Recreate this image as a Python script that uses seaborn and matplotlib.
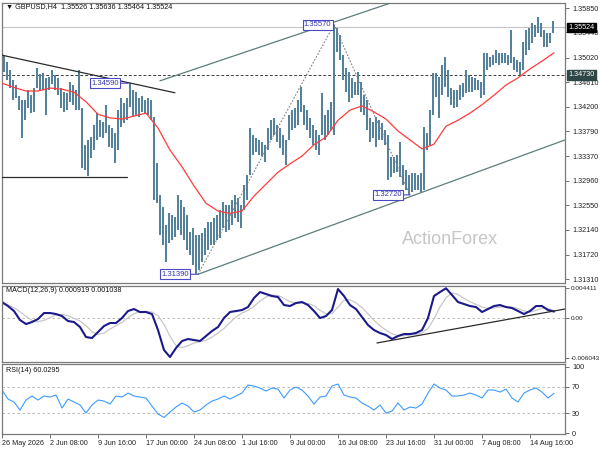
import numpy as np
import pandas as pd
import matplotlib
matplotlib.use("Agg")
import matplotlib.pyplot as plt
import matplotlib.transforms as mtransforms
import seaborn as sns

# ------------------------------------------------------------------ data
# GBPUSD H4; one drawn bar = 2 H4 bars (x measured in H4 bars from 26 May 00:00)
bar_high = [
    1.3506, 1.3495, 1.3481, 1.3464, 1.3456, 1.3438, 1.3431, 1.3431, 1.3448, 1.3439,
    1.3451, 1.3485, 1.3475, 1.3476, 1.3468, 1.3469, 1.3481, 1.3473, 1.3468, 1.3451,
    1.3444, 1.3443, 1.3461, 1.3456, 1.3448, 1.3481, 1.3417, 1.3356, 1.3364, 1.3369,
    1.3389, 1.3409, 1.3397, 1.3394, 1.3423, 1.3389, 1.3384, 1.3376, 1.3414, 1.3434,
    1.3426, 1.3434, 1.3459, 1.3448, 1.3444, 1.3434, 1.3438, 1.3431, 1.3434, 1.3431,
    1.3402, 1.3325, 1.3272, 1.3252, 1.3222, 1.3242, 1.3238, 1.3235, 1.3272, 1.3263,
    1.3252, 1.3238, 1.3210, 1.3217, 1.3205, 1.3205, 1.3208, 1.3217, 1.3227, 1.3227,
    1.3233, 1.3238, 1.3247, 1.3260, 1.3255, 1.3255, 1.3263, 1.3272, 1.3267, 1.3255,
    1.3289, 1.3305, 1.3384, 1.3372, 1.3367, 1.3364, 1.3361, 1.3356, 1.3384, 1.3397,
    1.3401, 1.3389, 1.3384, 1.3372, 1.3364, 1.3406, 1.3414, 1.3417, 1.3431, 1.3452,
    1.3423, 1.3414, 1.3401, 1.3389, 1.3381, 1.3372, 1.3443, 1.3406, 1.3414, 1.3428,
    1.3557, 1.3551, 1.3540, 1.3506, 1.3485, 1.3478, 1.3468, 1.3461, 1.3478, 1.3461,
    1.3439, 1.3431, 1.3401, 1.3394, 1.3402, 1.3397, 1.3392, 1.3381, 1.3372, 1.3335,
    1.3335, 1.3339, 1.3361, 1.3322, 1.3314, 1.3305, 1.3309, 1.3309, 1.3305, 1.3309,
    1.3386, 1.3376, 1.3414, 1.3476, 1.3476, 1.3469, 1.3490, 1.3503, 1.3481, 1.3451,
    1.3448, 1.3448, 1.3456, 1.3459, 1.3481, 1.3473, 1.3469, 1.3468, 1.3464, 1.3461,
    1.3510, 1.3510, 1.3503, 1.3506, 1.3515, 1.3510, 1.3510, 1.3510, 1.3506, 1.3548,
    1.3503, 1.3498, 1.3495, 1.3528, 1.3548, 1.3551, 1.3560, 1.3557, 1.3570, 1.3560,
    1.3548, 1.3543, 1.3543, 1.3564,
]
bar_low = [
    1.3478, 1.3464, 1.3451, 1.3431, 1.3434, 1.3414, 1.3367, 1.3397, 1.3417, 1.3409,
    1.3411, 1.3451, 1.3448, 1.3448, 1.3406, 1.3448, 1.3458, 1.3448, 1.3439, 1.3417,
    1.3411, 1.3414, 1.3428, 1.3423, 1.3414, 1.3414, 1.3317, 1.3314, 1.3304, 1.3334,
    1.3347, 1.3364, 1.3369, 1.3367, 1.3376, 1.3352, 1.3351, 1.3325, 1.3347, 1.3386,
    1.3392, 1.3397, 1.3419, 1.3402, 1.3406, 1.3402, 1.3411, 1.3409, 1.3406, 1.3397,
    1.3263, 1.3258, 1.3205, 1.3188, 1.3160, 1.3191, 1.3196, 1.3201, 1.3213, 1.3205,
    1.3196, 1.3180, 1.3171, 1.3155, 1.3139, 1.3146, 1.3160, 1.3171, 1.3180, 1.3188,
    1.3188, 1.3196, 1.3200, 1.3217, 1.3210, 1.3213, 1.3222, 1.3233, 1.3227, 1.3217,
    1.3247, 1.3263, 1.3305, 1.3339, 1.3344, 1.3339, 1.3337, 1.3327, 1.3347, 1.3364,
    1.3372, 1.3361, 1.3351, 1.3339, 1.3322, 1.3364, 1.3381, 1.3384, 1.3389, 1.3411,
    1.3389, 1.3381, 1.3367, 1.3356, 1.3347, 1.3339, 1.3372, 1.3364, 1.3372, 1.3381,
    1.3372, 1.3511, 1.3498, 1.3464, 1.3444, 1.3428, 1.3434, 1.3439, 1.3439, 1.3411,
    1.3406, 1.3381, 1.3361, 1.3367, 1.3352, 1.3364, 1.3364, 1.3356, 1.3297, 1.3302,
    1.3309, 1.3310, 1.3302, 1.3289, 1.3280, 1.3272, 1.3277, 1.3280, 1.3280, 1.3277,
    1.3280, 1.3347, 1.3356, 1.3406, 1.3436, 1.3401, 1.3439, 1.3452, 1.3436, 1.3423,
    1.3417, 1.3419, 1.3431, 1.3436, 1.3443, 1.3444, 1.3444, 1.3448, 1.3448, 1.3434,
    1.3439, 1.3481, 1.3486, 1.3490, 1.3493, 1.3490, 1.3493, 1.3493, 1.3490, 1.3493,
    1.3481, 1.3478, 1.3473, 1.3481, 1.3506, 1.3515, 1.3526, 1.3536, 1.3543, 1.3536,
    1.3520, 1.3520, 1.3526, 1.3543,
]
# red moving average, one value every 8 H4 bars
ma_price = [
    1.3459, 1.3452, 1.3446, 1.3446, 1.3451, 1.3449, 1.3444, 1.3428, 1.3407, 1.3401,
    1.3399, 1.3404, 1.3409, 1.3384, 1.3347, 1.3319, 1.3287, 1.3258, 1.3245, 1.3241,
    1.3245, 1.3270, 1.3290, 1.3310, 1.3324, 1.3337, 1.3356, 1.3369, 1.3397, 1.3414,
    1.3421, 1.3411, 1.3399, 1.3379, 1.3364, 1.3349, 1.3357, 1.3387, 1.3397, 1.3409,
    1.3423, 1.3439, 1.3456, 1.3468, 1.3483, 1.3496, 1.3510,
]
# MACD(12,26,9), one value every 4 H4 bars
macd_main = [
    0.00235, 0.00175, 0.00100, -0.00035, -0.00095, -0.00065, -0.00020, 0.00070, 0.00070, 0.00055,
    0.00025, -0.00050, -0.00065, -0.00140, -0.00290, -0.00305, -0.00215, -0.00125, -0.00080, -0.00080,
    -0.00005, 0.00100, 0.00130, 0.00085, 0.00085, 0.00055, -0.00185, -0.00485, -0.00590, -0.00455,
    -0.00350, -0.00320, -0.00335, -0.00350, -0.00275, -0.00200, -0.00140, -0.00005, 0.00085, 0.00100,
    0.00115, 0.00160, 0.00295, 0.00385, 0.00355, 0.00325, 0.00310, 0.00190, 0.00175, 0.00220,
    0.00235, 0.00190, 0.00100, -0.00005, 0.00025, 0.00115, 0.00430, 0.00325, 0.00190, 0.00130,
    0.00010, -0.00110, -0.00185, -0.00230, -0.00260, -0.00320, -0.00275, -0.00245, -0.00245, -0.00230,
    -0.00185, -0.00005, 0.00325, 0.00385, 0.00441, 0.00340, 0.00235, 0.00205, 0.00175, 0.00160,
    0.00085, 0.00130, 0.00175, 0.00190, 0.00160, 0.00145, 0.00100, 0.00055, 0.00100, 0.00175,
    0.00175, 0.00115, 0.00092,
]
macd_signal = [
    0.00200, 0.00190, 0.00150, 0.00090, 0.00020, -0.00040, -0.00060, -0.00040, 0.00000, 0.00040,
    0.00050, 0.00030, -0.00010, -0.00050, -0.00120, -0.00210, -0.00250, -0.00230, -0.00170, -0.00120,
    -0.00070, 0.00000, 0.00060, 0.00090, 0.00095, 0.00085, 0.00030, -0.00100, -0.00280, -0.00420,
    -0.00450, -0.00420, -0.00380, -0.00360, -0.00340, -0.00290, -0.00230, -0.00160, -0.00070, 0.00010,
    0.00070, 0.00110, 0.00170, 0.00250, 0.00310, 0.00340, 0.00335, 0.00290, 0.00240, 0.00220,
    0.00220, 0.00215, 0.00180, 0.00110, 0.00060, 0.00060, 0.00160, 0.00260, 0.00270, 0.00220,
    0.00150, 0.00060, -0.00040, -0.00120, -0.00190, -0.00240, -0.00270, -0.00270, -0.00260, -0.00250,
    -0.00230, -0.00160, -0.00020, 0.00160, 0.00300, 0.00370, 0.00350, 0.00290, 0.00240, 0.00200,
    0.00160, 0.00140, 0.00145, 0.00160, 0.00165, 0.00160, 0.00135, 0.00100, 0.00085, 0.00110,
    0.00140, 0.00140, 0.00104,
]
# RSI(14), one value every 4 H4 bars
rsi_values = [
    65.0, 51.5, 47.0, 35.0, 50.0, 56.0, 50.0, 56.0, 54.5, 57.5,
    38.0, 51.5, 47.0, 42.5, 30.5, 42.5, 50.0, 48.5, 44.0, 56.0,
    54.5, 60.5, 56.0, 54.5, 53.0, 41.0, 29.0, 24.0, 32.0, 39.5,
    45.5, 41.0, 32.0, 35.0, 42.5, 48.5, 51.5, 56.0, 51.5, 56.0,
    60.5, 72.5, 71.0, 68.0, 63.5, 68.0, 66.5, 53.0, 65.0, 69.5,
    65.0, 56.0, 44.0, 54.5, 56.0, 71.0, 74.0, 57.5, 54.5, 53.0,
    45.5, 41.0, 35.0, 42.5, 30.5, 33.5, 45.5, 35.0, 39.5, 38.0,
    44.0, 60.5, 74.0, 68.0, 65.0, 56.0, 56.0, 57.5, 60.5, 57.5,
    53.0, 65.0, 65.0, 62.0, 66.5, 53.0, 47.0, 60.5, 65.0, 68.0,
    62.0, 53.0, 60.03,
]
date_labels = ["26 May 2026", "2 Jun 08:00", "9 Jun 16:00", "17 Jun 00:00", "24 Jun 08:00",
               "1 Jul 16:00", "9 Jul 00:00", "16 Jul 08:00", "23 Jul 16:00", "31 Jul 00:00",
               "7 Aug 08:00", "14 Aug 16:00"]
price_ticks = [1.35850, 1.35440, 1.35020, 1.34610, 1.34200, 1.33790, 1.33370,
               1.32960, 1.32550, 1.32140, 1.31720, 1.31310]
macd_ticks = [0.004411, 0.0, -0.006043]
macd_tick_labels = ["0.004411", "0.00", "-0.006043"]
rsi_ticks = [100, 70, 30, 0]
header = "\u25BC GBPUSD,H4  1.35526 1.35636 1.35464 1.35524"
bid_price = 1.35524
level_price = 1.34730
# drawn objects: (x in H4 bars, price)
trend_desc_x, trend_desc_p = [0.0, 115.3], [1.3506, 1.3443]
support_x, support_p = [0.0, 83.3], [1.3302, 1.3302]
chan_up_x, chan_up_p = [105.3, 259.8], [1.3463, 1.3594]
chan_low_x, chan_low_p = [130.7, 375.3], [1.3139, 1.3364]
zigzag_x, zigzag_p = [130.7, 221.3, 272.0], [1.3139, 1.3557, 1.3272]
pivot_x = [84.0, 221.3, 130.7, 272.0]
pivot_p = [1.3459, 1.3557, 1.3139, 1.3272]
pivot_text = ["1.34590", "1.35570", "1.31390", "1.32720"]
pivot_gap_px = [8, 1, 8, 7]
macd_trend_x, macd_trend_v = [250.0, 375.3], [-0.00379, 0.00130]

# ------------------------------------------------------------------ style
sns.set_style("white")
plt.rcParams["font.family"] = ["Liberation Sans", "DejaVu Sans"]
FS = 5.2
BAR_COLOR = "#56819b"
SPINE = "#7a7a7a"

W, H = 600, 450
fig = plt.figure(figsize=(6, 4.5), dpi=100)
fig.patch.set_facecolor("white")


def rect(top, bottom):
    return [2 / W, 1 - bottom / H, 563 / W, (bottom - top) / H]


ax = fig.add_axes(rect(3, 283))
axm = fig.add_axes(rect(285.5, 361.5))
axr = fig.add_axes(rect(364, 434))
XMAX = 563 / 1.5

for a in (ax, axm, axr):
    a.set_xlim(0, XMAX)
    for s in a.spines.values():
        s.set_color(SPINE)
        s.set_linewidth(0.9)
    a.yaxis.tick_right()
    a.tick_params(axis="y", which="both", left=False, right=True, labelleft=False,
                  labelright=True, length=3, width=0.6, color="#555555",
                  labelsize=FS, pad=2, labelcolor="#222222")

ax.set_ylim(1.31244, 1.35934)
axm.set_ylim(-0.00657, 0.00483)
axr.set_ylim(-0.95, 104.05)

# ------------------------------------------------------------------ main panel
bar_x = np.arange(len(bar_high)) * 2 + 1.5
ax.vlines(bar_x, bar_low, bar_high, color=BAR_COLOR, lw=1.45, zorder=3)

ma_df = pd.DataFrame({"x": np.arange(len(ma_price)) * 8, "ma": ma_price})
sns.lineplot(data=ma_df, x="x", y="ma", ax=ax, color="#ff3c3c", lw=0.9, zorder=4, legend=False)

ax.axhline(bid_price, color="#c4c4c4", lw=0.8, zorder=1)
ax.axhline(level_price, color="#404040", lw=0.7, ls=(0, (3, 2)), zorder=2)

ax.plot(trend_desc_x, trend_desc_p, color="#2b2b2b", lw=0.9, zorder=5)
ax.plot(support_x, support_p, color="#2b2b2b", lw=0.9, zorder=5)


def extend(xs, ps, xend):
    slope = (ps[1] - ps[0]) / (xs[1] - xs[0])
    return [xs[0], xend], [ps[0], ps[0] + slope * (xend - xs[0])]


ux, up = extend(chan_up_x, chan_up_p, XMAX)
lx, lp = extend(chan_low_x, chan_low_p, XMAX)
ax.plot(ux, up, color="#5d7c7c", lw=0.9, zorder=5)
ax.plot(lx, lp, color="#5d7c7c", lw=0.9, zorder=5)
ax.plot(zigzag_x, zigzag_p, color="#808080", lw=0.8, ls=(0, (1.5, 1.5)), zorder=5)

for px_, pp_, txt, gap in zip(pivot_x, pivot_p, pivot_text, pivot_gap_px):
    ax.annotate(txt, xy=(px_, pp_), xytext=(-(gap + 1.5) * 0.72, 0), textcoords="offset points",
                ha="right", va="center", fontsize=FS + 0.3, color="#3434b0", zorder=8,
                bbox=dict(boxstyle="square,pad=0.18", fc="white", ec="#4a4ac8", lw=0.8),
                arrowprops=dict(arrowstyle="-", color="#4a4ac8", lw=0.8, shrinkA=0, shrinkB=0))

ax.text(0.7957, 0.1536, "ActionForex", transform=ax.transAxes, ha="center", va="center",
        fontsize=13, color="#c6c6c6", zorder=0)
ax.text(4 / 563, 1 - 4 / 280, header, transform=ax.transAxes, ha="left", va="center",
        fontsize=FS, color="#111111", zorder=9)

ax.set_yticks(price_ticks)
ax.set_yticklabels([f"{v:.5f}" for v in price_ticks])
ax.set_xticks([])
ax.set_xlabel("")
ax.set_ylabel("")

btr = mtransforms.blended_transform_factory(ax.transAxes, ax.transData)
ax.text(1.006, bid_price, "1.35524", transform=btr, ha="left", va="center", fontsize=FS,
        color="white", clip_on=False, zorder=10,
        bbox=dict(boxstyle="square,pad=0.2", fc="black", ec="black"))
ax.text(1.006, level_price, "1.34730", transform=btr, ha="left", va="center", fontsize=FS,
        color="white", clip_on=False, zorder=10,
        bbox=dict(boxstyle="square,pad=0.2", fc="#2f4646", ec="#2f4646"))

# ------------------------------------------------------------------ MACD panel
ind_x = np.arange(len(macd_main)) * 4
axm.axhline(0, color="#b0b0b0", lw=0.6, ls=(0, (3, 3)))
sns.lineplot(x=ind_x, y=macd_signal, ax=axm, color="#c8c8c8", lw=0.9, legend=False)
sns.lineplot(x=ind_x, y=macd_main, ax=axm, color="#1a1a8c", lw=1.5, legend=False)
axm.plot(macd_trend_x, macd_trend_v, color="#2b2b2b", lw=0.9)
axm.set_yticks(macd_ticks)
axm.set_yticklabels(macd_tick_labels)
axm.tick_params(axis="y", labelsize=4.6, pad=1.2)
axm.set_xticks([])
axm.set_xlabel("")
axm.set_ylabel("")
axm.text(4 / 563, 1 - 5 / 76, "MACD(12,26,9) 0.000919 0.001038", transform=axm.transAxes,
         ha="left", va="center", fontsize=FS, color="#111111")

# ------------------------------------------------------------------ RSI panel
rsi_x = np.arange(len(rsi_values)) * 4
axr.axhline(70, color="#b0b0b0", lw=0.6, ls=(0, (3, 3)))
axr.axhline(30, color="#b0b0b0", lw=0.6, ls=(0, (3, 3)))
sns.lineplot(x=rsi_x, y=rsi_values, ax=axr, color="#3d9bff", lw=0.8, legend=False)
axr.set_yticks(rsi_ticks)
axr.set_yticklabels([str(v) for v in rsi_ticks])
axr.set_xlabel("")
axr.set_ylabel("")
axr.text(4 / 563, 1 - 7 / 70, "RSI(14) 60.0295", transform=axr.transAxes,
         ha="left", va="center", fontsize=FS, color="#111111")
axr.set_xticks(np.arange(len(date_labels)) * 32)
axr.set_xticklabels(date_labels, ha="left")
axr.tick_params(axis="x", bottom=True, length=3, width=0.6, color="#555555",
                labelsize=FS, pad=1.5, labelcolor="#222222")

fig.savefig("out.png", dpi=100, facecolor="white")
